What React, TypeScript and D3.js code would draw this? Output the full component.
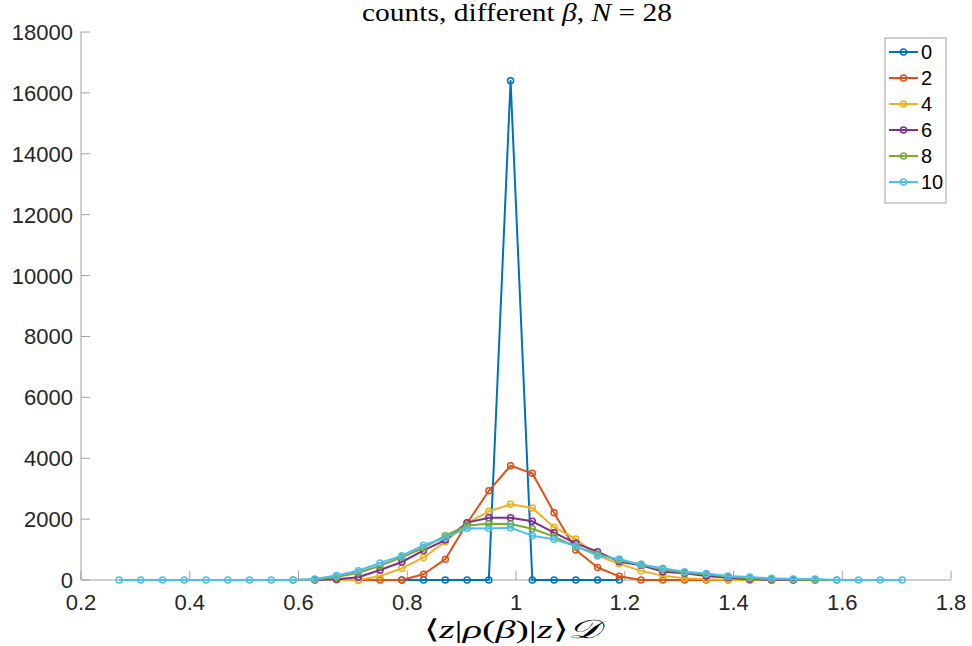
import React from "react";
import * as d3 from "d3";

// bin centres
const xBins = [0.27, 0.31, 0.35, 0.39, 0.43, 0.47, 0.51, 0.55, 0.59, 0.63, 0.67, 0.71, 0.75, 0.79, 0.83, 0.87, 0.91, 0.95, 0.99, 1.03, 1.07, 1.11, 1.15, 1.19, 1.23, 1.27, 1.31, 1.35, 1.39, 1.43, 1.47, 1.51, 1.55, 1.59, 1.63, 1.67, 1.71];

const seriesNames = ["0", "2", "4", "6", "8", "10"];
const seriesColors = ["#0072BD", "#D95319", "#EDB120", "#7E2F8E", "#77AC30", "#4DBEEE"];
// index in xBins of each series' first bin
const seriesStart = [13, 11, 10, 9, 8, 0];

const beta0 = [0, 0, 0, 0, 0, 16400, 0, 0, 0, 0, 0];
const beta2 = [0, 0, 0, 190, 685, 1862, 2930, 3754, 3504, 2211, 985, 410, 120, 0, 0, 0, 0, 0, 0, 0];
const beta4 = [0, 0, 131, 383, 740, 1259, 1870, 2255, 2487, 2365, 1731, 1347, 798, 530, 300, 140, 55, 22, 0, 0, 0, 0];
const beta6 = [0, 22, 88, 328, 591, 970, 1314, 1884, 2047, 2047, 1927, 1554, 1205, 930, 600, 480, 274, 219, 131, 77, 22, 10, 0, 0];
const beta8 = [0, 15, 100, 240, 470, 745, 1060, 1456, 1790, 1850, 1840, 1685, 1423, 1095, 854, 640, 515, 350, 240, 186, 110, 55, 30, 15, 0, 0];
const beta10 = [0, 0, 0, 0, 0, 0, 0, 0, 0, 30, 150, 305, 560, 800, 1140, 1390, 1700, 1690, 1720, 1456, 1336, 1117, 800, 690, 495, 385, 275, 210, 130, 95, 55, 35, 30, 0, 0, 0, 0];

const seriesValues = [beta0, beta2, beta4, beta6, beta8, beta10];

const xTicks = [0.2, 0.4, 0.6, 0.8, 1, 1.2, 1.4, 1.6, 1.8];
const yTicks = [0, 2000, 4000, 6000, 8000, 10000, 12000, 14000, 16000, 18000];

const W = 972;
const H = 646;
const left = 81;
const right = 951;
const top = 32;
const bottom = 580;

export default function App() {
  const x = d3.scaleLinear().domain([0.2, 1.8]).range([left, right]);
  const y = d3.scaleLinear().domain([0, 18000]).range([bottom, top]);
  const line = d3
    .line<[number, number]>()
    .x((d) => x(d[0]))
    .y((d) => y(d[1]));

  const series = seriesValues.map((vals, si) =>
    vals.map((v, i) => [xBins[seriesStart[si] + i], v] as [number, number])
  );

  const tickFont = "'Liberation Sans', Arial, sans-serif";
  const serif = "'Liberation Serif', 'Times New Roman', serif";
  const axisColor = "#a0a0a0";
  const textColor = "#262626";

  const legX = 885;
  const legY = 38;
  const legW = 61;
  const legH = 165;
  const legStep = 26;

  return (
    <svg width={W} height={H} style={{ position: "absolute", left: 0, top: 0, background: "#fff" }}>
      <rect x={0} y={0} width={W} height={H} fill="#fff" />
      {/* axes lines */}
      <line x1={left} x2={right} y1={bottom} y2={bottom} stroke={axisColor} strokeWidth={1} />
      <line x1={left} x2={left} y1={top} y2={bottom} stroke={axisColor} strokeWidth={1} />
      {xTicks.map((t) => (
        <g key={"xt" + t}>
          <line x1={x(t)} x2={x(t)} y1={bottom} y2={bottom - 9} stroke={axisColor} />
          <text x={x(t)} y={bottom + 30} textAnchor="middle" fontFamily={tickFont} fontSize={22} fill={textColor}>
            {String(t)}
          </text>
        </g>
      ))}
      {yTicks.map((t) => (
        <g key={"yt" + t}>
          <line x1={left} x2={left + 9} y1={y(t)} y2={y(t)} stroke={axisColor} />
          <text x={left - 8} y={y(t) + 8} textAnchor="end" fontFamily={tickFont} fontSize={22} fill={textColor}>
            {String(t)}
          </text>
        </g>
      ))}
      {/* series */}
      {series.map((pts, si) => (
        <g key={"s" + si}>
          <path d={line(pts) || ""} fill="none" stroke={seriesColors[si]} strokeWidth={2} strokeLinejoin="round" />
          {pts.map((p, i) => (
            <circle key={i} cx={x(p[0])} cy={y(p[1])} r={3} fill="none" stroke={seriesColors[si]} strokeWidth={1.5} />
          ))}
        </g>
      ))}
      {/* title */}
      <text x={517} y={21} textAnchor="middle" fontFamily={serif} fontSize={25} fill="#000" textLength={310} lengthAdjust="spacingAndGlyphs">
        counts, different <tspan fontStyle="italic">β</tspan>, <tspan fontStyle="italic">N</tspan> = 28
      </text>
      {/* x label */}
      <text x={512} y={638} textAnchor="middle" fontFamily={serif} fontSize={26} fill="#000" textLength={177} lengthAdjust="spacingAndGlyphs">
        ⟨<tspan fontStyle="italic">z</tspan>|<tspan fontStyle="italic">ρ</tspan>(<tspan fontStyle="italic">β</tspan>)|<tspan fontStyle="italic">z</tspan>⟩<tspan fontStyle="italic">𝒟</tspan>
      </text>
      {/* legend */}
      <rect x={legX} y={legY} width={legW} height={legH} fill="#fff" stroke={axisColor} strokeWidth={1} />
      {seriesNames.map((n, i) => {
        const cy = legY + 14 + i * legStep;
        return (
          <g key={"l" + n}>
            <line x1={legX + 4} x2={legX + 33} y1={cy} y2={cy} stroke={seriesColors[i]} strokeWidth={2} />
            <circle cx={legX + 18.5} cy={cy} r={3} fill="none" stroke={seriesColors[i]} strokeWidth={1.5} />
            <text x={legX + 36} y={cy + 7} fontFamily={tickFont} fontSize={20} fill="#000">
              {n}
            </text>
          </g>
        );
      })}
    </svg>
  );
}
